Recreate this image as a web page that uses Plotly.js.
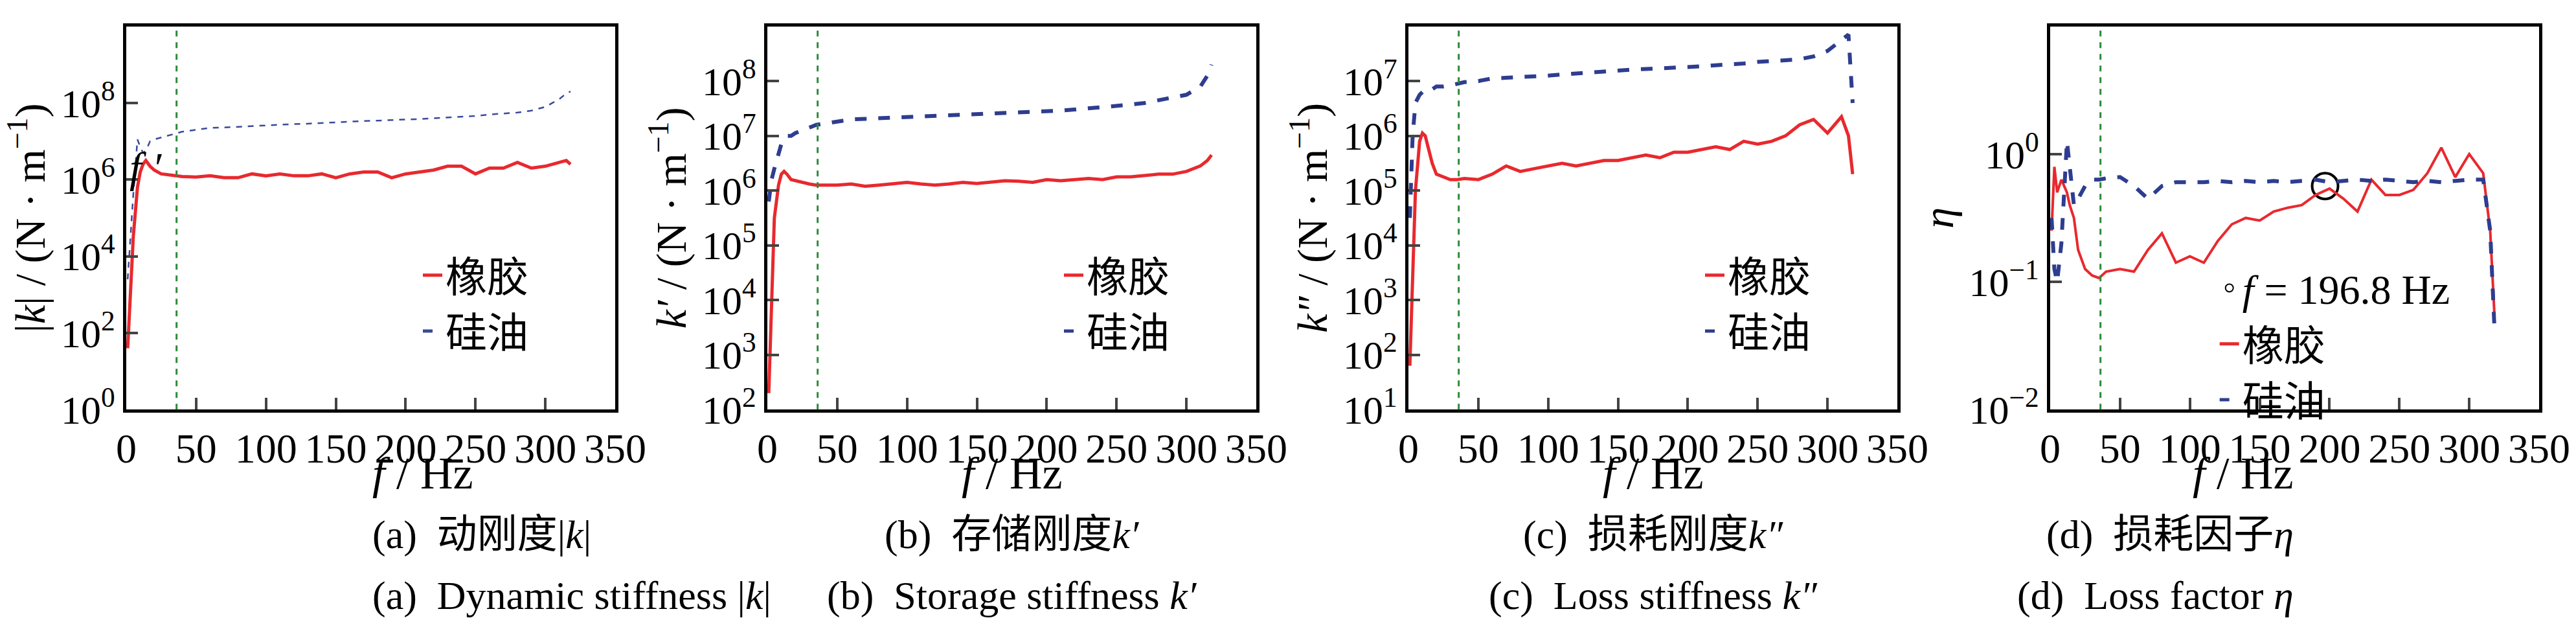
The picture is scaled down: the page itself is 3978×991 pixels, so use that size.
<!DOCTYPE html>
<html><head><meta charset="utf-8">
<script src="https://cdn.plot.ly/plotly-3.0.1.min.js"></script>
<style>body{margin:0;background:#fff}</style></head>
<body><div id="myDiv" style="width:3978px;height:991px"></div>
<script>
// frequency samples (Hz)
var freq = [1,3,5,8,10,12,14,17,20,25,30,35,40,50,60,70,80,90,100,110,120,130,140,150,160,170,180,190,200,210,220,230,240,250,260,270,280,290,300,310,315,318];

// log10 values
var absK_rubber = [1.6,3.0,4.5,5.8,6.2,6.4,6.5,6.35,6.25,6.15,6.12,6.1,6.08,6.07,6.1,6.05,6.05,6.15,6.1,6.15,6.1,6.1,6.15,6.05,6.15,6.2,6.2,6.05,6.15,6.2,6.25,6.35,6.35,6.15,6.3,6.3,6.45,6.3,6.35,6.45,6.5,6.4];
var absK_oil    = [3.4,4.5,5.6,7.05,6.85,6.7,6.75,7.0,7.05,7.1,7.15,7.2,7.25,7.3,7.35,7.36,7.38,7.4,7.42,7.44,7.45,7.46,7.48,7.5,7.51,7.53,7.54,7.56,7.57,7.58,7.6,7.62,7.64,7.66,7.7,7.72,7.75,7.8,7.9,8.1,8.25,8.3];
var storK_rubber = [2.3,4.0,5.5,6.1,6.3,6.35,6.3,6.2,6.18,6.15,6.12,6.1,6.1,6.1,6.12,6.08,6.1,6.12,6.15,6.12,6.1,6.12,6.15,6.13,6.15,6.18,6.17,6.15,6.2,6.18,6.2,6.22,6.2,6.25,6.25,6.28,6.3,6.3,6.35,6.45,6.55,6.65];
var storK_oil    = [5.8,6.2,6.4,6.7,6.85,6.95,7.0,7.0,7.05,7.1,7.15,7.2,7.22,7.26,7.3,7.31,7.32,7.33,7.35,7.36,7.37,7.38,7.39,7.4,7.41,7.42,7.43,7.44,7.45,7.46,7.48,7.5,7.52,7.55,7.57,7.6,7.65,7.7,7.75,7.9,8.1,8.3];
var lossK_rubber = [1.8,3.5,5.0,5.9,6.05,6.0,5.8,5.5,5.3,5.25,5.2,5.2,5.22,5.2,5.3,5.45,5.35,5.4,5.45,5.5,5.45,5.5,5.55,5.55,5.6,5.65,5.6,5.7,5.7,5.75,5.8,5.75,5.9,5.85,5.9,6.0,6.2,6.3,6.05,6.35,6.0,5.3];
var lossK_oil    = [4.5,6.0,6.6,6.75,6.8,6.8,6.85,6.85,6.9,6.9,6.92,6.95,6.98,7.0,7.05,7.06,7.07,7.08,7.1,7.12,7.14,7.16,7.18,7.2,7.21,7.22,7.23,7.24,7.25,7.27,7.29,7.3,7.32,7.35,7.36,7.38,7.4,7.45,7.55,7.75,7.85,6.6];
var eta_rubber = [-0.6,-0.1,-0.3,-0.2,-0.25,-0.3,-0.4,-0.5,-0.75,-0.9,-0.95,-0.97,-0.92,-0.9,-0.92,-0.75,-0.62,-0.85,-0.8,-0.85,-0.68,-0.55,-0.5,-0.52,-0.45,-0.42,-0.4,-0.32,-0.27,-0.35,-0.45,-0.2,-0.32,-0.32,-0.28,-0.15,0.05,-0.18,0.0,-0.15,-0.6,-1.25];
var eta_oil    = [-0.5,-0.9,-1.0,-0.7,-0.3,0.1,-0.1,-0.4,-0.35,-0.25,-0.2,-0.2,-0.19,-0.18,-0.25,-0.35,-0.25,-0.22,-0.22,-0.22,-0.21,-0.22,-0.21,-0.22,-0.21,-0.22,-0.21,-0.2,-0.22,-0.21,-0.2,-0.21,-0.2,-0.21,-0.22,-0.21,-0.22,-0.21,-0.2,-0.2,-0.6,-1.35];

var markF = 196.8, markEta = -0.25, fPrime = 36;

var pow10 = function(a){ return a.map(function(v){ return Math.pow(10, v); }); };
var serif = 'Liberation Serif, Times New Roman, serif';
var cjk = 'Liberation Serif, Noto Sans CJK SC, serif';
var red = '#e8292e', blue = '#2e3d8f';

var panels = [
  {r: absK_rubber, o: absK_oil, exps: [0,2,4,6,8,10], yt: '|<i>k</i>| / (N · m<sup>−1</sup>)', oilW: 2.5, oilC: '#3a4a9a'},
  {r: storK_rubber, o: storK_oil, exps: [2,3,4,5,6,7,8,9], yt: '<i>k′</i> / (N · m<sup>−1</sup>)', oilW: 6, oilC: blue},
  {r: lossK_rubber, o: lossK_oil, exps: [1,2,3,4,5,6,7,8], yt: '<i>k″</i> / (N · m<sup>−1</sup>)', oilW: 6, oilC: blue},
  {r: eta_rubber, o: eta_oil, exps: [-2,-1,0,1], yt: '<i>η</i>', oilW: 6, oilC: blue}
];
var left = [195, 1185, 2175, 3166], pw = 755;
var captions1 = ['(a)  动刚度|<i>k</i>|', '(b)  存储刚度<i>k′</i>', '(c)  损耗刚度<i>k″</i>', '(d)  损耗因子<i>η</i>'];
var captions2 = ['(a)  Dynamic stiffness |<i>k</i>|', '(b)  Storage stiffness <i>k′</i>', '(c)  Loss stiffness <i>k″</i>', '(d)  Loss factor <i>η</i>'];

var traces = [], layout = {
  width: 3978, height: 991, margin: {l:0, r:0, t:0, b:0},
  paper_bgcolor: '#fff', plot_bgcolor: '#fff', showlegend: true,
  font: {family: serif, size: 62, color: '#000'},
  shapes: [], annotations: []
};

panels.forEach(function(p, i){
  var n = i === 0 ? '' : String(i + 1);
  var lg = i === 0 ? 'legend' : 'legend' + (i + 1);
  traces.push({x: freq, y: pow10(p.r), xaxis: 'x' + n, yaxis: 'y' + n, mode: 'lines', name: '橡胶', legend: lg,
    line: {color: red, width: i === 3 ? 4 : 5}});
  traces.push({x: freq, y: pow10(p.o), xaxis: 'x' + n, yaxis: 'y' + n, mode: 'lines', name: '硅油', legend: lg,
    line: {color: p.oilC, width: p.oilW, dash: 'dash'}});
  var x0 = left[i] / 3978, x1 = (left[i] + pw) / 3978;
  layout['xaxis' + n] = {domain: [x0, x1], anchor: 'y' + n, range: [0, 350], tickvals: [0,50,100,150,200,250,300,350],
    ticks: 'inside', ticklen: 18, tickwidth: 4, showline: true, mirror: true, linewidth: 5, linecolor: '#000',
    showgrid: false, zeroline: false, tickfont: {size: 64}};
  layout['yaxis' + n] = {domain: [0.362, 0.959], anchor: 'x' + n, type: 'log',
    range: [p.exps[0], p.exps[p.exps.length - 1]], tickmode: 'array',
    tickvals: p.exps.map(function(e){ return Math.pow(10, e); }),
    ticktext: p.exps.map(function(e){ return '10<sup>' + (e < 0 ? '−' + (-e) : e) + '</sup>'; }),
    ticks: 'inside', ticklen: 18, tickwidth: 4, showline: true, mirror: true, linewidth: 5, linecolor: '#000',
    showgrid: false, zeroline: false, tickfont: {size: 62},
    title: {text: p.yt, font: {size: 66}, standoff: 4}};
  layout.shapes.push({type: 'line', xref: 'x' + n, yref: 'y' + n + ' domain', x0: fPrime, x1: fPrime, y0: 0, y1: 1,
    line: {color: '#2e8b3a', width: 3, dash: 'dash'}});
  var cx = (left[i] + pw / 2) / 3978;
  layout.annotations.push({xref: 'paper', yref: 'paper', x: cx, y: 0.222, text: '<i>f</i> / Hz', showarrow: false,
    font: {family: serif, size: 70}});
  layout.annotations.push({xref: 'paper', yref: 'paper', x: cx, y: 0.13, text: captions1[i], showarrow: false,
    font: {family: cjk, size: 62}});
  layout.annotations.push({xref: 'paper', yref: 'paper', x: cx, y: 0.035, text: captions2[i], showarrow: false,
    font: {family: serif, size: 62}});
  layout[lg] = {x: (left[i] + pw * (i === 3 ? 0.34 : 0.6)) / 3978, xanchor: 'left', y: i === 3 ? 0.6 : 0.62, yanchor: 'top',
    bgcolor: 'rgba(0,0,0,0)', font: {family: cjk, size: 64}, itemsizing: 'constant', tracegroupgap: 0};
});

// marked point on the loss factor panel
traces.splice(6, 0, {x: [markF], y: [Math.pow(10, markEta)], xaxis: 'x4', yaxis: 'y4', mode: 'markers',
  name: '<i>f</i> = 196.8 Hz', legend: 'legend4',
  marker: {symbol: 'circle-open', size: 40, color: '#000', line: {width: 4, color: '#000'}}});

layout.annotations.push({xref: 'x', yref: 'y', x: 14, y: Math.pow(10, 0.8), text: '<i>f ′</i>', showarrow: false,
  font: {size: 66}});

Plotly.newPlot('myDiv', traces, layout, {displayModeBar: false});
</script></body></html>
